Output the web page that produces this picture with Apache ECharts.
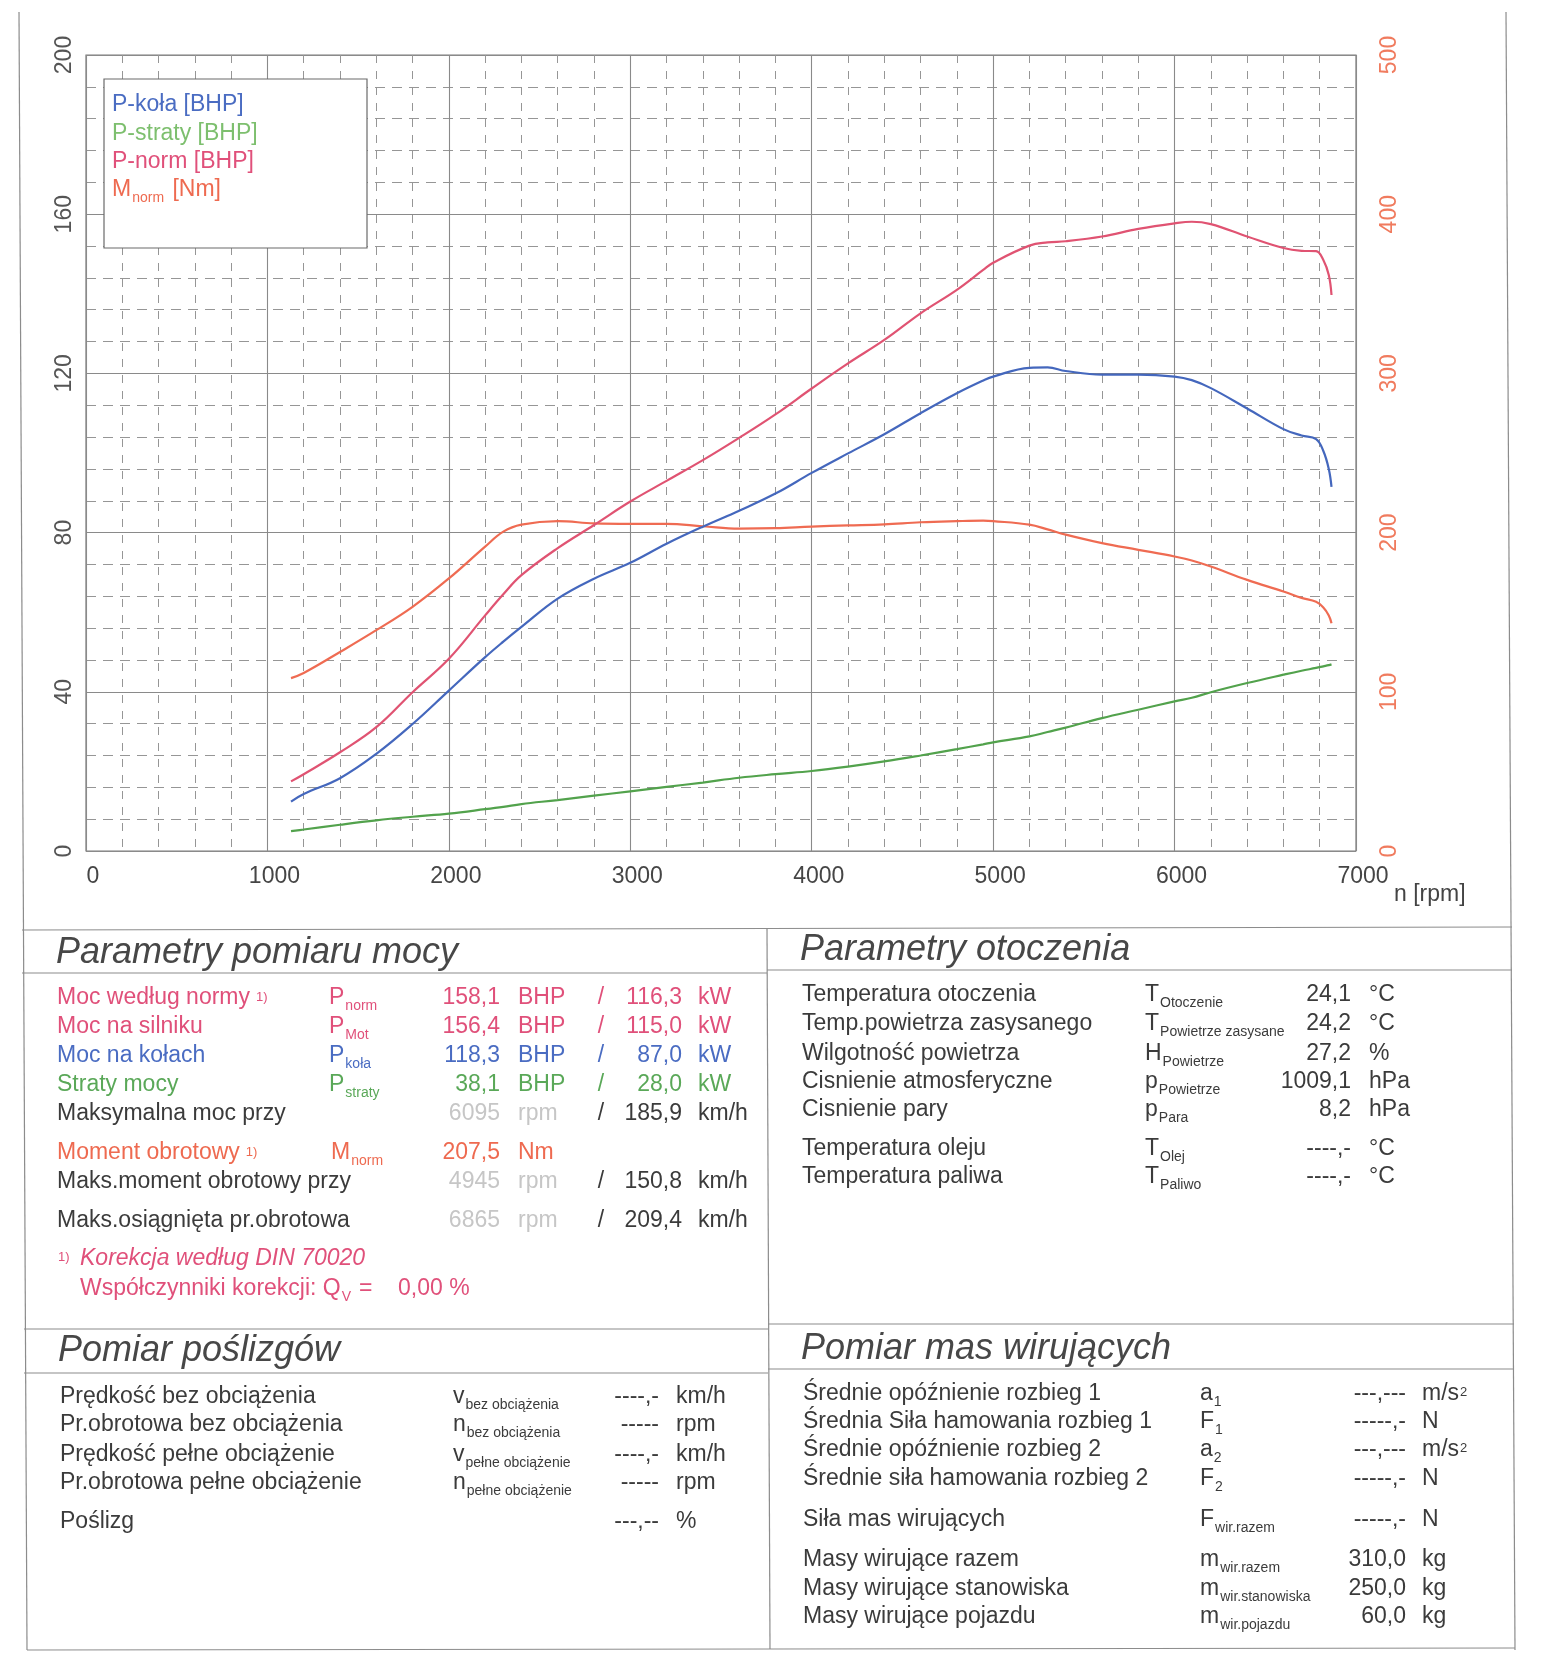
<!DOCTYPE html>
<html><head><meta charset="utf-8">
<script src="https://cdn.jsdelivr.net/npm/echarts/dist/echarts.min.js"></script>
<style>html,body{margin:0;padding:0;background:#fff}#c{width:1542px;height:1680px}</style>
</head><body><div id="c"></div>
<script>
// ---------- data ----------
const rpm    = [1130,1200,1400,1600,1800,2000,2200,2300,2400,2600,2800,3000,3200,3400,3600,3800,4000,4200,4400,4600,4800,4945,5000,5200,5300,5400,5600,5800,6000,6095,6200,6400,6600,6700,6780,6820,6850,6865];
const pKola  = [12.4,14.3,18.3,24.4,31.9,40.3,48.7,52.6,56.3,63.4,68.4,72.4,77.2,81.5,85.5,89.8,95.0,99.9,104.7,110.0,115.0,118.2,119.2,121.4,121.5,120.6,119.7,119.7,119.2,118.3,116.3,111.2,106.0,104.4,103.5,100.5,96.0,91.5];
const pStraty= [5.0,5.4,6.6,7.7,8.6,9.4,10.5,11.1,11.8,12.8,13.9,15.0,16.1,17.2,18.4,19.3,20.1,21.2,22.5,24.0,25.6,26.8,27.3,28.8,29.9,31.0,33.4,35.5,37.6,38.5,39.9,42.2,44.3,45.3,46.0,46.4,46.7,46.9];
const pNorm  = [17.5,19.3,24.8,31.1,39.9,48.3,59.2,64.5,69.3,76.1,81.9,87.8,93.0,98.2,103.8,109.7,116.2,122.5,128.4,135.1,141.0,146.0,147.8,152.1,152.9,153.2,154.4,156.3,157.7,158.1,157.5,154.4,151.5,150.8,150.7,148.5,144.7,139.7];
const mNorm  = [108.6,111.8,125.0,138.7,153.4,171.2,191.2,200.6,205.0,207.2,205.8,205.5,205.5,204.0,202.5,202.8,203.8,204.5,205.2,206.5,207.2,207.5,207.2,205.0,202.0,198.7,193.4,189.2,185.0,182.5,178.7,170.3,163.0,159.0,156.5,153.0,148.0,143.1];
const seriesNames = ['P-koła [BHP]','P-straty [BHP]','P-norm [BHP]','M_norm [Nm]'];

// table texts
const powerRows = [
  ['Moc według normy','1)','P','norm','158,1','BHP','116,3','kW'],
  ['Moc na silniku','','P','Mot','156,4','BHP','115,0','kW'],
  ['Moc na kołach','','P','koła','118,3','BHP','87,0','kW'],
  ['Straty mocy','','P','straty','38,1','BHP','28,0','kW']
];
const speedRows = [
  ['Maksymalna moc przy','6095','rpm','185,9','km/h'],
  ['Maks.moment obrotowy przy','4945','rpm','150,8','km/h'],
  ['Maks.osiągnięta pr.obrotowa','6865','rpm','209,4','km/h']
];
const torqueRow = ['Moment obrotowy','1)','M','norm','207,5','Nm'];
const envRows = [
  ['Temperatura otoczenia','T','Otoczenie','24,1','°C'],
  ['Temp.powietrza zasysanego','T','Powietrze zasysane','24,2','°C'],
  ['Wilgotność powietrza','H','Powietrze','27,2','%'],
  ['Cisnienie atmosferyczne','p','Powietrze','1009,1','hPa'],
  ['Cisnienie pary','p','Para','8,2','hPa'],
  ['Temperatura oleju','T','Olej','----,-','°C'],
  ['Temperatura paliwa','T','Paliwo','----,-','°C']
];
const slipRows = [
  ['Prędkość bez obciążenia','v','bez obciążenia','----,-','km/h'],
  ['Pr.obrotowa bez obciążenia','n','bez obciążenia','-----','rpm'],
  ['Prędkość pełne obciążenie','v','pełne obciążenie','----,-','km/h'],
  ['Pr.obrotowa pełne obciążenie','n','pełne obciążenie','-----','rpm'],
  ['Poślizg','','','---,--','%']
];
const massRows = [
  ['Średnie opóźnienie rozbieg 1','a','1','---,---','m/s','2'],
  ['Średnia Siła hamowania rozbieg 1','F','1','-----,-','N',''],
  ['Średnie opóźnienie rozbieg 2','a','2','---,---','m/s','2'],
  ['Średnie siła hamowania rozbieg 2','F','2','-----,-','N',''],
  ['Siła mas wirujących','F','wir.razem','-----,-','N',''],
  ['Masy wirujące razem','m','wir.razem','310,0','kg',''],
  ['Masy wirujące stanowiska','m','wir.stanowiska','250,0','kg',''],
  ['Masy wirujące pojazdu','m','wir.pojazdu','60,0','kg','']
];

// ---------- styling ----------
const FONT = '"Liberation Sans", Arial, Helvetica, sans-serif';
const PINK='#e0507a', BLUE='#4a6cc2', GREEN='#5aa858', LGREEN='#7dbf6e', ORANGE='#ee6a50', DARK='#3b3b3b', LIGHT='#c6c6c6', TITLE='#474747', RULE='#8c8c8c';
const FS = 23;

const mctx = document.createElement('canvas').getContext('2d');
function tw(s, fs, it){ mctx.font = (it?'italic ':'') + fs + 'px ' + FONT; return mctx.measureText(s).width; }
function T(x, base, s, o){
  o = o || {}; const fs = o.fs || FS;
  return {type:'text', x:x, y: base - 0.35*fs, silent:true, z:10,
    style:{text:s, font:(o.it?'italic ':'') + fs + 'px ' + FONT, fill:o.color||DARK, align:o.align||'left', verticalAlign:'middle'}};
}
function TS(x, base, main, sub, o){
  o = o || {}; const fs = o.fs || FS;
  const out = [T(x, base, main, o)];
  if (sub) out.push(T(x + tw(main, fs) + 1, base + 5, sub, Object.assign({}, o, {fs:14})));
  return out;
}
function L(x1,y1,x2,y2,c,w){ return {type:'line', silent:true, z:5, shape:{x1:x1,y1:y1,x2:x2,y2:y2}, style:{stroke:c||RULE, lineWidth:w||1.2}}; }

const G = [];
// page frame & table rules
G.push(L(19,12,27,1650), L(1506,12,1515,1650), L(22,930,1512,927), L(27,1650,1515,1648), L(767,929,770,1649));
G.push(L(22,973,767,973), L(767,970,1512,970), L(24,1329,768,1329), L(24,1373,768,1373), L(768,1324,1514,1324), L(768,1369,1514,1369));

// legend
G.push({type:'rect', silent:true, z:8, shape:{x:104,y:79,width:263,height:169}, style:{fill:'#fff', stroke:'#6a6a6a', lineWidth:1.2}});
G.push(T(112,113,'P-koła [BHP]',{fs:23,color:BLUE}));
G.push(T(112,142,'P-straty [BHP]',{fs:23,color:LGREEN}));
G.push(T(112,170,'P-norm [BHP]',{fs:23,color:PINK}));
(function(){ const w1 = tw('M',23), w2 = tw('norm',14);
  G.push(T(112,198,'M',{fs:23,color:ORANGE}), T(112+w1+1,203,'norm',{fs:14,color:ORANGE}), T(112+w1+w2+3,198,' [Nm]',{fs:23,color:ORANGE})); })();
G.push(L(112,228,168,228,'#f2b3bd',1.2));
G.push(T(1394,903,'n [rpm]',{fs:23,color:'#444'}));

// section titles
G.push(T(56,966,'Parametry pomiaru mocy',{fs:36,it:true,color:TITLE}));
G.push(T(800,963,'Parametry otoczenia',{fs:36,it:true,color:TITLE}));
G.push(T(58,1364,'Pomiar poślizgów',{fs:36,it:true,color:TITLE}));
G.push(T(801,1362,'Pomiar mas wirujących',{fs:36,it:true,color:TITLE}));

// power rows
const powerY = [1006,1035,1064,1093];
const powerC = [PINK,PINK,BLUE,GREEN];
powerRows.forEach(function(r,i){
  const y = powerY[i], c = powerC[i];
  G.push(T(57,y,r[0],{color:c}));
  if (r[1]) G.push(T(57+tw(r[0],FS)+6,y-4,r[1],{fs:13,color:c}));
  G.push.apply(G, TS(329,y,r[2],r[3],{color:c}));
  G.push(T(500,y,r[4],{color:c,align:'right'}), T(518,y,r[5],{color:c}), T(601,y,'/',{color:c,align:'center'}),
         T(682,y,r[6],{color:c,align:'right'}), T(698,y,r[7],{color:c}));
});
const speedY = [1122,1190,1229];
speedRows.forEach(function(r,i){
  const y = speedY[i];
  G.push(T(57,y,r[0]), T(500,y,r[1],{color:LIGHT,align:'right'}), T(518,y,r[2],{color:LIGHT}),
         T(601,y,'/',{align:'center'}), T(682,y,r[3],{align:'right'}), T(698,y,r[4]));
});
(function(){ const r = torqueRow, y = 1161;
  G.push(T(57,y,r[0],{color:ORANGE}), T(57+tw(r[0],FS)+6,y-4,r[1],{fs:13,color:ORANGE}));
  G.push.apply(G, TS(331,y,r[2],r[3],{color:ORANGE}));
  G.push(T(500,y,r[4],{color:ORANGE,align:'right'}), T(518,y,r[5],{color:ORANGE}));
})();
G.push(T(58,1262,'1)',{fs:13,color:PINK}), T(80,1267,'Korekcja według DIN 70020',{it:true,color:PINK}));
(function(){ const a = 'Współczynniki korekcji: Q', wa = tw(a,FS);
  G.push(T(80,1297,a,{color:PINK}), T(80+wa+1,1302,'V',{fs:14,color:PINK}), T(80+wa+12,1297,' =',{color:PINK}), T(398,1297,'0,00 %',{color:PINK}));
})();

// environment rows
const envY = [1003,1032,1062,1090,1118,1157,1185];
envRows.forEach(function(r,i){ const y = envY[i];
  G.push(T(802,y,r[0])); G.push.apply(G, TS(1145,y,r[1],r[2]));
  G.push(T(1351,y,r[3],{align:'right'}), T(1369,y,r[4]));
});
// slip rows
const slipY = [1405,1433,1463,1491,1530];
slipRows.forEach(function(r,i){ const y = slipY[i];
  G.push(T(60,y,r[0])); if (r[1]) G.push.apply(G, TS(453,y,r[1],r[2]));
  G.push(T(659,y,r[3],{align:'right'}), T(676,y,r[4]));
});
// mass rows
const massY = [1402,1430,1458,1487,1528,1568,1597,1625];
massRows.forEach(function(r,i){ const y = massY[i];
  G.push(T(803,y,r[0])); G.push.apply(G, TS(1200,y,r[1],r[2]));
  G.push(T(1406,y,r[3],{align:'right'}), T(1422,y,r[4]));
  if (r[5]) G.push(T(1422+tw(r[4],FS)+1,y-5,r[5],{fs:13}));
});

// ---------- chart ----------
function pts(arr){ return rpm.map(function(r,i){ return [r, arr[i]]; }); }
function line(name, data, color, yIdx){
  return {name:name, type:'line', yAxisIndex:yIdx||0, data:pts(data), showSymbol:false, smooth:0.4,
          lineStyle:{color:color, width:2.2}, itemStyle:{color:color}, z:3};
}
const plain = function(v){ return String(v); };
const chart = echarts.init(document.getElementById('c'), null, {renderer:'canvas', width:1542, height:1680});
chart.setOption({
  animation:false,
  backgroundColor:'#ffffff',
  textStyle:{fontFamily:FONT},
  grid:{left:86, top:55, width:1270, height:796, show:true, borderColor:'#7a7a7a', borderWidth:1.2, backgroundColor:'transparent'},
  xAxis:{type:'value', min:0, max:7000, interval:1000, axisLine:{show:false}, axisTick:{show:false},
    axisLabel:{fontSize:23, color:'#454545', margin:14, fontFamily:FONT, padding:[0,0,0,14], formatter:plain},
    splitLine:{show:true, lineStyle:{color:'#8a8a8a', width:1.1}},
    minorTick:{show:false, splitNumber:5},
    minorSplitLine:{show:true, lineStyle:{color:'#969696', width:1, type:[8,8]}}},
  yAxis:[
    {type:'value', min:0, max:200, interval:40, position:'left', axisLine:{show:false}, axisTick:{show:false},
     axisLabel:{rotate:90, fontSize:23, color:'#555', margin:10, fontFamily:FONT, formatter:plain},
     splitLine:{show:true, lineStyle:{color:'#8a8a8a', width:1.1}},
     minorTick:{show:false, splitNumber:5},
     minorSplitLine:{show:true, lineStyle:{color:'#969696', width:1, type:[10,7]}}},
    {type:'value', min:0, max:500, interval:100, position:'right', axisLine:{show:false}, axisTick:{show:false},
     splitLine:{show:false}, axisLabel:{rotate:90, fontSize:23, color:'#f07b5e', margin:22, fontFamily:FONT, formatter:plain}}
  ],
  series:[
    line(seriesNames[3], mNorm, '#ef6b52', 1),
    line(seriesNames[1], pStraty, '#52a24c', 0),
    line(seriesNames[0], pKola, '#4467bd', 0),
    line(seriesNames[2], pNorm, '#e05372', 0)
  ],
  graphic:G
});
</script></body></html>
